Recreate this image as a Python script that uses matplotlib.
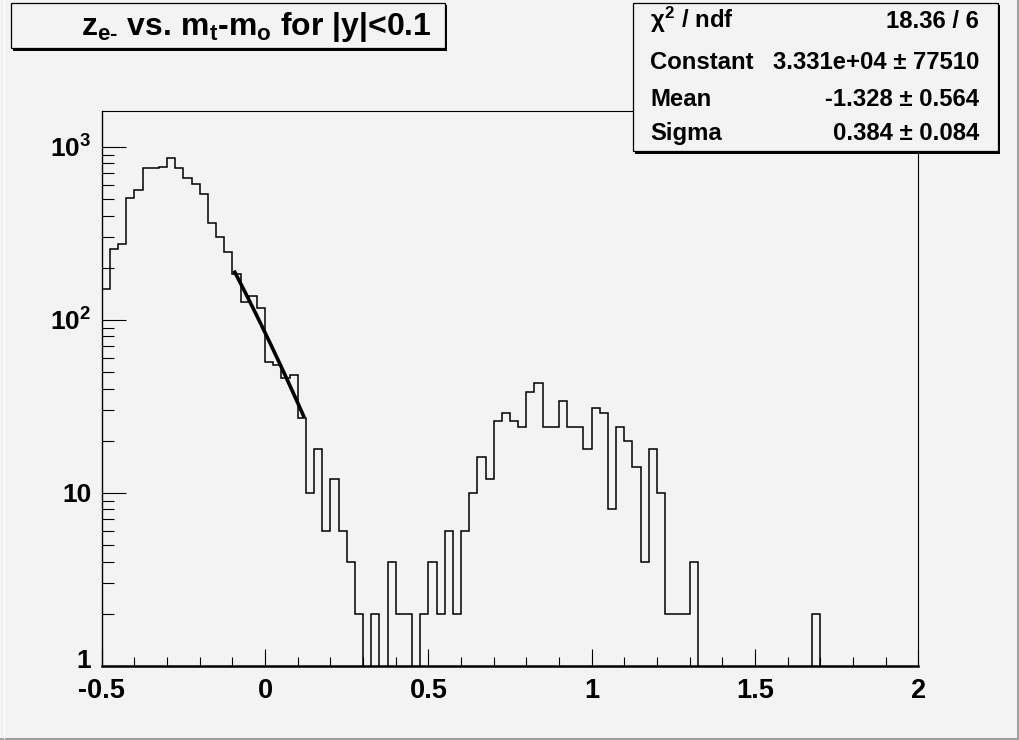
import numpy as np
import matplotlib
matplotlib.use("Agg")
import matplotlib.pyplot as plt
from matplotlib.patches import Rectangle
from matplotlib.lines import Line2D
from matplotlib.ticker import FixedLocator, FixedFormatter, NullFormatter

plt.rcParams['font.family'] = ['Liberation Sans', 'DejaVu Sans']
plt.rcParams['font.weight'] = 'bold'
plt.rcParams['mathtext.fontset'] = 'custom'
plt.rcParams['mathtext.rm'] = 'Liberation Sans:bold'
plt.rcParams['mathtext.bf'] = 'Liberation Sans:bold'
plt.rcParams['mathtext.it'] = 'Liberation Sans:bold'
plt.rcParams['mathtext.sf'] = 'Liberation Sans:bold'

# ---------------- data ----------------
x_min, x_max, n_bins = -0.5, 2.0, 100
counts = [
    150, 256, 273, 504, 563, 751, 751, 767, 859, 751,     # -0.500 .. -0.275
    657, 607, 533, 361, 302, 246, 183, 126, 137, 117,     # -0.250 .. -0.025
    57, 55, 46, 48, 27, 10, 18, 6, 12, 6,                 #  0.000 ..  0.225
    4, 2, 0, 2, 0, 4, 2, 2, 0, 2,                         #  0.250 ..  0.475
    4, 2, 6, 2, 6, 10, 16, 12, 26, 29,                    #  0.500 ..  0.725
    26, 24, 38, 43, 24, 24, 34, 24, 24, 18,               #  0.750 ..  0.975
    31, 29, 8, 24, 20, 14, 4, 18, 10, 2,                  #  1.000 ..  1.225
    2, 2, 4, 0, 0, 0, 0, 0, 0, 0,                         #  1.250 ..  1.475
    0, 0, 0, 0, 0, 0, 0, 2, 0, 0,                         #  1.500 ..  1.725
    0, 0, 0, 0, 0, 0, 0, 0, 0, 0,                         #  1.750 ..  1.975
]

fit_const = 3.331e4
fit_mean = -1.328
fit_sigma = 0.384
fit_lo, fit_hi = -0.095, 0.12

x_tick_values = [-0.5, 0, 0.5, 1, 1.5, 2]
x_tick_labels = ["-0.5", "0", "0.5", "1", "1.5", "2"]
y_tick_values = [1, 10, 100, 1000]
y_tick_labels = ["1", "10", r"$10^{2}$", r"$10^{3}$"]
y_limits = (1, 1608)

title_text = r"z$_{e\text{-}}$ vs. m$_{t}$-m$_{o}$ for |y|<0.1"
stat_names = [r"$\chi^{2}$ / ndf", "Constant", "Mean", "Sigma"]
stat_values = ["18.36 / 6", "3.331e+04 \u00b1 77510", "-1.328 \u00b1 0.564", "0.384 \u00b1 0.084"]

# ---------------- figure ----------------
W, H = 1020, 740
BG = "#f3f3f3"
fig = plt.figure(figsize=(W / 100, H / 100), dpi=100, facecolor=BG)


def fx(px):
    return px / W


def fy(py):
    return 1 - py / H


ax = fig.add_axes([fx(101.7), fy(665.7), fx(918.3) - fx(101.7), fy(111) - fy(665.7)])
ax.set_facecolor(BG)
ax.set_yscale('log', nonpositive='clip')
ax.set_xlim(x_min, x_max)
ax.set_ylim(*y_limits)

edges = np.linspace(x_min, x_max, n_bins + 1)
ax.stairs(np.array(counts, dtype=float), edges, baseline=None, color='black', linewidth=1.1)

xf = np.linspace(fit_lo, fit_hi, 60)
yf = fit_const * np.exp(-0.5 * ((xf - fit_mean) / fit_sigma) ** 2)
ax.plot(xf, yf, color='black', linewidth=2.6, solid_capstyle='butt')

# ticks
ax.xaxis.set_major_locator(FixedLocator(x_tick_values))
ax.xaxis.set_major_formatter(FixedFormatter(x_tick_labels))
ax.xaxis.set_minor_locator(FixedLocator(np.arange(-0.5, 2.0001, 0.1)))
ax.xaxis.set_minor_formatter(NullFormatter())
ax.yaxis.set_major_locator(FixedLocator(y_tick_values))
# the lowest label ("1") is drawn separately, nudged up so it just touches "-0.5"
ax.yaxis.set_major_formatter(FixedFormatter([""] + y_tick_labels[1:]))
minor_y = [m * 10 ** d for d in range(0, 4) for m in range(2, 10)]
ax.yaxis.set_minor_locator(FixedLocator(minor_y))
ax.yaxis.set_minor_formatter(NullFormatter())

ax.tick_params(axis='x', which='major', direction='in', length=12.2, width=0.8,
               labelsize=19.5, pad=8.5, top=False)
ax.tick_params(axis='x', which='minor', direction='in', length=6.5, width=0.8, top=False)
ax.tick_params(axis='y', which='major', direction='in', length=17, width=0.8,
               labelsize=19, pad=7.5, right=False)
ax.tick_params(axis='y', which='minor', direction='in', length=8.6, width=0.8, right=False)
for lbl in ax.get_xticklabels() + ax.get_yticklabels():
    lbl.set_fontweight('bold')

ax.annotate(y_tick_labels[0], xy=(0, y_tick_values[0]),
            xycoords=('axes fraction', 'data'), xytext=(-7.5, 3.5),
            textcoords='offset points', ha='right', va='center',
            fontsize=19, fontweight='bold', annotation_clip=False)

ax.spines['bottom'].set_linewidth(1.8)
ax.spines['left'].set_linewidth(1.0)
ax.spines['top'].set_linewidth(0.8)
ax.spines['right'].set_linewidth(0.8)


def box(x0, y0, x1, y1, shadow=2.5):
    fig.patches.append(Rectangle((fx(x0 + shadow), fy(y1 + shadow)),
                                 fx(x1 - x0), fy(y0) - fy(y1),
                                 transform=fig.transFigure, facecolor='black',
                                 edgecolor='none', zorder=5))
    fig.patches.append(Rectangle((fx(x0), fy(y1)), fx(x1 - x0), fy(y0) - fy(y1),
                                 transform=fig.transFigure, facecolor=BG,
                                 edgecolor='black', linewidth=0.9, zorder=6))


# title box
box(11, 3, 445, 48)
fig.text(fx(432), fy(35), title_text, ha='right', va='baseline', fontsize=23,
         fontweight='bold', zorder=7)

# stats box
box(633, 3, 998, 151)
baselines = [28, 69, 106, 140]
for name, val, b in zip(stat_names, stat_values, baselines):
    fig.text(fx(650), fy(b), name, ha='left', va='baseline', fontsize=17.2,
             fontweight='bold', zorder=7)
    fig.text(fx(979), fy(b), val, ha='right', va='baseline', fontsize=17.2,
             fontweight='bold', zorder=7)

# canvas border
fig.lines.append(Line2D([fx(1018.5), fx(1018.5)], [0, 1], transform=fig.transFigure,
                        color='#a0a0a0', linewidth=2.2))
fig.lines.append(Line2D([0, 1], [fy(738.5), fy(738.5)], transform=fig.transFigure,
                        color='#a0a0a0', linewidth=2.2))
fig.lines.append(Line2D([fx(4.5), fx(4.5)], [fy(738), 1], transform=fig.transFigure,
                        color='#fbfbfb', linewidth=1.0))

fig.savefig("out.png", dpi=100, facecolor=BG)
